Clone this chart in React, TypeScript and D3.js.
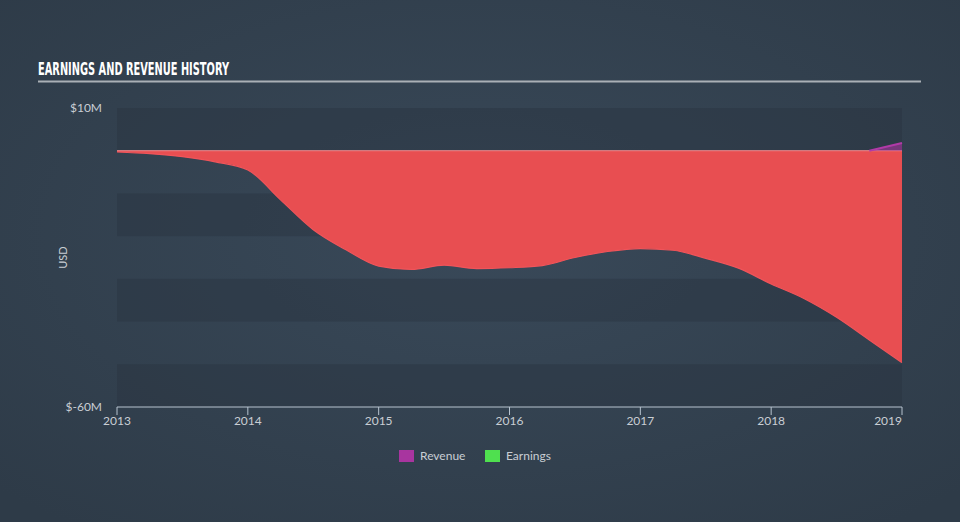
import React from "react";
import * as d3 from "d3";

const earningsDates = [2013.0, 2013.25, 2013.5, 2013.75, 2014.0, 2014.25, 2014.5, 2014.75, 2015.0, 2015.25, 2015.5, 2015.75, 2016.0, 2016.25, 2016.5, 2016.75, 2017.0, 2017.25, 2017.5, 2017.75, 2018.0, 2018.25, 2018.5, 2018.75, 2019.0];
const earningsValues = [-0.3, -0.7, -1.4, -2.6, -4.5, -11.5, -18.5, -23.2, -27.0, -27.8, -26.8, -27.6, -27.4, -26.9, -25.0, -23.6, -22.9, -23.3, -25.2, -27.5, -31.2, -34.6, -39.0, -44.3, -49.6];
const revenueDates = [2018.75, 2019.0];
const revenueValues = [0.0, 1.8];
const yTicks = [10, -60];
const yTickLabels = ["$10M", "$-60M"];
const xTicks = [2013, 2014, 2015, 2016, 2017, 2018, 2019];
const bandEdges = [10, 0, -10, -20, -30, -40, -50, -60];
const legendItems = [
  { label: "Revenue", color: "#a8359f" },
  { label: "Earnings", color: "#4fe04f" },
];

const W = 960;
const H = 522;
const left = 117;
const right = 902;
const top = 108;
const bottom = 407;

export default function App() {
  const x = d3.scaleLinear().domain([2013, 2019]).range([left, right]);
  const y = d3.scaleLinear().domain([-60, 10]).range([bottom, top]);

  const eData = earningsDates.map((d, i) => ({ d, v: earningsValues[i] }));
  const rData = revenueDates.map((d, i) => ({ d, v: revenueValues[i] }));

  const eArea = d3
    .area<{ d: number; v: number }>()
    .x((p) => x(p.d))
    .y0(() => y(0))
    .y1((p) => y(p.v))
    .curve(d3.curveMonotoneX)(eData) as string;
  const eLine = d3
    .line<{ d: number; v: number }>()
    .x((p) => x(p.d))
    .y((p) => y(p.v))
    .curve(d3.curveMonotoneX)(eData) as string;
  const rArea = d3
    .area<{ d: number; v: number }>()
    .x((p) => x(p.d))
    .y0(() => y(0))
    .y1((p) => y(p.v))(rData) as string;
  const rLine = d3
    .line<{ d: number; v: number }>()
    .x((p) => x(p.d))
    .y((p) => y(p.v))(rData) as string;

  const font = "Lato, 'Open Sans', sans-serif";

  return (
    <div style={{ position: "absolute", left: 0, top: 0, width: W, height: H }}>
      <svg width={W} height={H} style={{ display: "block" }}>
        <defs>
          <radialGradient id="bg" cx="50%" cy="45%" r="70%">
            <stop offset="0%" stopColor="#394959" />
            <stop offset="100%" stopColor="#2e3b48" />
          </radialGradient>
        </defs>
        <rect x={0} y={0} width={W} height={H} fill="url(#bg)" />

        <text
          x={38}
          y={75}
          fill="#ffffff"
          fontFamily="'Liberation Sans Narrow', 'DejaVu Sans Condensed', sans-serif"
          fontWeight="bold"
          fontSize={18}
          textLength={191}
          lengthAdjust="spacingAndGlyphs"
        >
          EARNINGS AND REVENUE HISTORY
        </text>
        <line x1={38} x2={921} y1={81.5} y2={81.5} stroke="#aab0b6" strokeWidth={2} />

        {bandEdges.slice(0, -1).map((v, i) =>
          i % 2 === 0 ? (
            <rect
              key={i}
              x={left}
              y={y(v)}
              width={right - left}
              height={y(bandEdges[i + 1]) - y(v)}
              fill="#27333f"
              opacity={0.4}
            />
          ) : null
        )}

        <path d={eArea} fill="#e84e51" />
        <path d={eLine} fill="none" stroke="#f0545a" strokeWidth={1.2} />
        <line x1={left} x2={right} y1={y(0)} y2={y(0)} stroke="#f08a8e" strokeWidth={1} />

        <path d={rArea} fill="#a8359f" opacity={0.6} />
        <path d={rLine} fill="none" stroke="#b13aa8" strokeWidth={2} />

        {yTicks.map((t, i) => (
          <text
            key={t}
            x={102}
            y={y(t) + 4}
            textAnchor="end"
            fill="#c9ced4"
            fontFamily={font}
            fontSize={12}
          >
            {yTickLabels[i]}
          </text>
        ))}
        <text
          transform={`translate(67,${(top + bottom) / 2}) rotate(-90)`}
          textAnchor="middle"
          fill="#c9ced4"
          fontFamily={font}
          fontSize={11}
        >
          USD
        </text>

        <line x1={left} x2={right} y1={bottom} y2={bottom} stroke="#b7c3cf" strokeWidth={1} />
        {xTicks.map((t, i) => (
          <g key={t}>
            <line x1={x(t)} x2={x(t)} y1={bottom} y2={bottom + 8} stroke="#b7c3cf" strokeWidth={1} />
            <text
              x={x(t)}
              y={bottom + 18}
              textAnchor={i === xTicks.length - 1 ? "end" : "middle"}
              fill="#c9ced4"
              fontFamily={font}
              fontSize={12}
            >
              {t}
            </text>
          </g>
        ))}

        {legendItems.map((it, i) => {
          const lx = 399 + i * 86;
          return (
            <g key={it.label}>
              <rect x={lx} y={450} width={15} height={12} fill={it.color} />
              <text x={lx + 21} y={460} fill="#c9ced4" fontFamily={font} fontSize={12}>
                {it.label}
              </text>
            </g>
          );
        })}
      </svg>
    </div>
  );
}
